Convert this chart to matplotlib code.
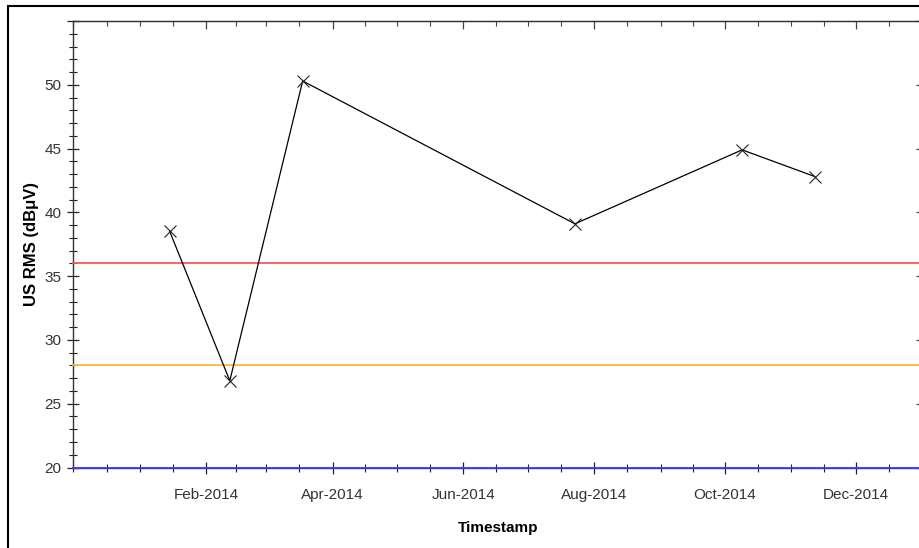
import datetime as dt
import numpy as np
import pandas as pd
import matplotlib
matplotlib.use('Agg')
import matplotlib.pyplot as plt
import matplotlib.dates as mdates
from matplotlib.ticker import FixedLocator, MultipleLocator, NullFormatter
from matplotlib.patches import Rectangle

plt.rcParams['font.family'] = ['Liberation Sans', 'DejaVu Sans']

# measurements
dates = ['2014-01-15', '2014-02-12', '2014-03-18', '2014-07-23', '2014-10-09', '2014-11-12']
values = [38.5, 26.8, 50.3, 39.1, 44.9, 42.8]

# limit lines
limit_values = [36, 28, 20]
limit_colors = ['#ff5555', '#ffb53a', '#3a3aff']

major_months = ['2014-02-01', '2014-04-01', '2014-06-01', '2014-08-01', '2014-10-01', '2014-12-01']
x_start = '2013-12-01'
x_end = '2015-01-01'

W, H = 920, 548
fig = plt.figure(figsize=(W / 100, H / 100), dpi=100)
left, right, top, bottom = 73.3, 922.2, 21, 467.5
ax = fig.add_axes([left / W, 1 - bottom / H, (right - left) / W, (bottom - top) / H])

xd = mdates.date2num(pd.to_datetime(dates))
for v, c in zip(limit_values, limit_colors):
    ax.axhline(v, color=c, lw=1.3, zorder=3, clip_on=False)
ax.plot(xd, values, color='black', lw=0.9, marker='x', ms=8, mew=0.8,
        mec='#222222', zorder=4)

ax.set_xlim(mdates.date2num(pd.Timestamp(x_start)), mdates.date2num(pd.Timestamp(x_end)))
ax.set_ylim(20, 55)

# major ticks every second month, minor at month start and middle
major_x = mdates.date2num(pd.to_datetime(major_months))
starts = pd.date_range(x_start, x_end, freq='MS')
minor_x = []
for s in starts[:-1]:
    minor_x.append(mdates.date2num(s))
    minor_x.append(mdates.date2num(s) + s.days_in_month / 2)

ax.xaxis.set_major_locator(FixedLocator(major_x))
ax.xaxis.set_major_formatter(mdates.DateFormatter('%b-%Y'))
ax.xaxis.set_minor_locator(FixedLocator(minor_x))

ax.yaxis.set_major_locator(MultipleLocator(5))
ax.yaxis.set_minor_locator(MultipleLocator(1))
ax.yaxis.set_major_formatter(lambda v, p: '' if v > 50 else f'{v:.0f}')

ax.tick_params(axis='both', which='major', direction='inout', length=9, width=0.9,
               color='#222222', labelsize=11, labelcolor='#333333')
ax.tick_params(axis='both', which='minor', direction='inout', length=6, width=0.8,
               color='#222222')
ax.tick_params(axis='x', which='major', pad=10)
ax.tick_params(axis='y', which='major', pad=4)

# top and right ticks only point inwards
sx = ax.secondary_xaxis('top')
sx.xaxis.set_major_locator(FixedLocator(major_x))
sx.xaxis.set_minor_locator(FixedLocator(minor_x))
sx.xaxis.set_major_formatter(NullFormatter())
sx.tick_params(which='major', direction='in', length=6, width=0.9, color='#444444')
sx.tick_params(which='minor', direction='in', length=3.5, width=0.8, color='#444444')
sx.spines['top'].set_color('#444444')

sy = ax.secondary_yaxis('right')
sy.yaxis.set_major_locator(MultipleLocator(5))
sy.yaxis.set_minor_locator(MultipleLocator(1))
sy.yaxis.set_major_formatter(NullFormatter())
sy.tick_params(which='major', direction='in', length=4, width=0.9, color='#444444')
sy.tick_params(which='minor', direction='in', length=2, width=0.8, color='#444444')

for sp in ['top', 'left', 'right', 'bottom']:
    ax.spines[sp].set_color('#333333')
    ax.spines[sp].set_linewidth(1.0)

ax.set_xlabel('Timestamp', fontsize=11, fontweight='bold', labelpad=14)
ax.set_ylabel('US RMS (dB\u03bcV)', fontsize=12, fontweight='bold', labelpad=4)

# outer frame around the whole chart
fig.patches.append(Rectangle((8 / W, -0.1), 1.2, (H - 6) / H + 0.1, transform=fig.transFigure,
                             fill=False, lw=1.5, ec='black', clip_on=False))

fig.savefig('out.png', dpi=100)
